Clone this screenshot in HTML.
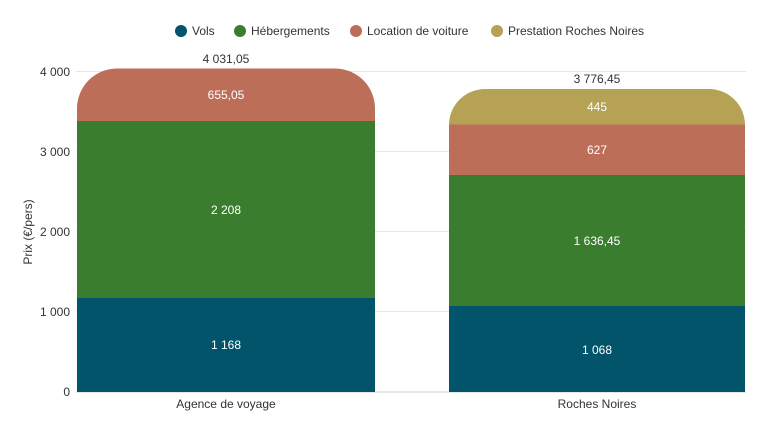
<!DOCTYPE html>
<html><head><meta charset="utf-8"><style>
body{margin:0;background:#fff;font-family:"Liberation Sans",sans-serif;}
</style></head><body>
<svg width="768" height="432" xmlns="http://www.w3.org/2000/svg" font-family="Liberation Sans, sans-serif">
<rect width="768" height="432" fill="#fff"/>
<g stroke="#e6e6e6" stroke-width="1">
<line x1="76" x2="746" y1="71.5" y2="71.5"/>
<line x1="76" x2="746" y1="151.5" y2="151.5"/>
<line x1="76" x2="746" y1="231.5" y2="231.5"/>
<line x1="76" x2="746" y1="311.5" y2="311.5"/>
</g>
<line x1="76" x2="746" y1="392" y2="392" stroke="#ccc"/>
<g font-size="12" fill="#333" text-anchor="end">
<text x="70" y="76">4 000</text>
<text x="70" y="156">3 000</text>
<text x="70" y="236">2 000</text>
<text x="70" y="316">1 000</text>
<text x="70" y="396">0</text>
</g>
<text transform="translate(32,232) rotate(-90)" font-size="12" fill="#333" text-anchor="middle">Prix (€/pers)</text>
<!-- left bar -->
<rect x="77" y="298" width="298" height="94" fill="#01546a"/>
<rect x="77" y="121" width="298" height="177" fill="#3a7d2f"/>
<path d="M77 121 V108 A40 40 0 0 1 117 68.5 H335 A40 40 0 0 1 375 108 V121 Z" fill="#bc6e58"/>
<!-- right bar -->
<rect x="449" y="306" width="296" height="86" fill="#01546a"/>
<rect x="449" y="175" width="296" height="131" fill="#3a7d2f"/>
<rect x="449" y="124.5" width="296" height="50.5" fill="#bc6e58"/>
<path d="M449 124.5 V125 A36 36 0 0 1 485 89 H709 A36 36 0 0 1 745 125 V124.5 Z" fill="#b5a254"/>
<g font-size="12" fill="#fff" text-anchor="middle">
<text x="226" y="349">1 168</text>
<text x="226" y="214">2 208</text>
<text x="226" y="99">655,05</text>
<text x="597" y="354">1 068</text>
<text x="597" y="245">1 636,45</text>
<text x="597" y="154">627</text>
<text x="597" y="111">445</text>
</g>
<g font-size="12" fill="#333" text-anchor="middle">
<text x="226" y="63">4 031,05</text>
<text x="597" y="83">3 776,45</text>
<text x="226" y="408">Agence de voyage</text>
<text x="597" y="408">Roches Noires</text>
</g>
<g font-size="12" fill="#333">
<circle cx="181" cy="31" r="6" fill="#01546a"/><text x="192" y="35">Vols</text>
<circle cx="240" cy="31" r="6" fill="#3a7d2f"/><text x="251" y="35">Hébergements</text>
<circle cx="356" cy="31" r="6" fill="#bc6e58"/><text x="367" y="35">Location de voiture</text>
<circle cx="497" cy="31" r="6" fill="#b5a254"/><text x="508" y="35">Prestation Roches Noires</text>
</g>
</svg>
</body></html>
